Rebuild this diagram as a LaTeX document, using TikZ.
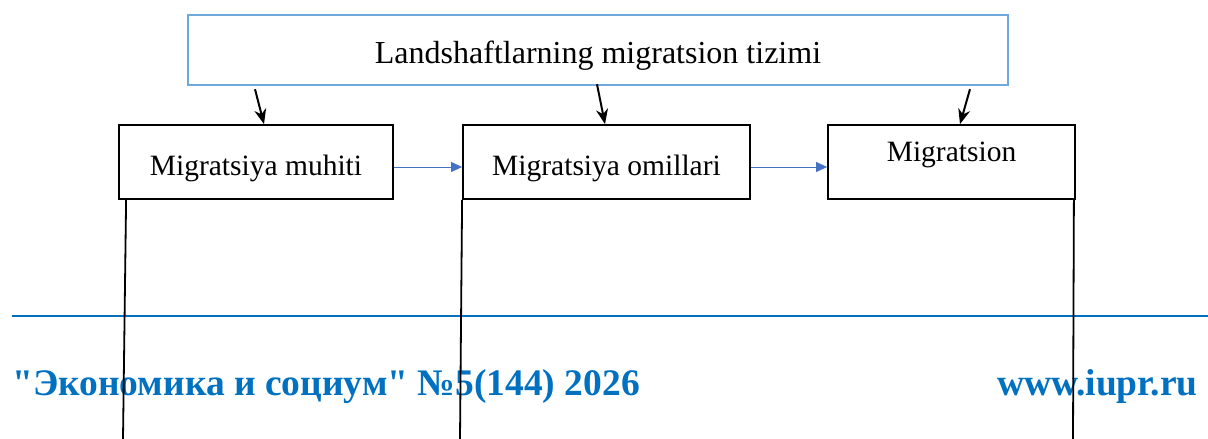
\documentclass[tikz,border=0pt]{standalone}
\usepackage{fontspec}
\setmainfont{Liberation Serif}
\usepackage{xcolor}
\usetikzlibrary{arrows.meta, positioning, calc}

\definecolor{framblue}{HTML}{6FA8DC}
\definecolor{linkblue}{HTML}{4472C4}
\definecolor{footblue}{HTML}{0070C0}

\begin{document}
\begin{tikzpicture}[x=1pt,y=-1pt,
  topbox/.style={draw=framblue,line width=2.4pt,minimum width=820pt,minimum height=70pt,inner sep=0pt},
  envbox/.style={draw,line width=1.8pt,minimum height=74pt,inner sep=0pt},
  boxtext/.style={font=\fontsize{29.5}{34}\selectfont,inner sep=0pt},
  downarrow/.style={-{Stealth[length=15pt,width=12pt]},line width=2pt},
  sidearrow/.style={-{Triangle[length=11pt,width=10pt]},linkblue,line width=1pt},
  footer/.style={footblue,font=\fontsize{37.5}{42}\bfseries\selectfont,inner sep=0pt}]
  \useasboundingbox (0,0) rectangle (1208,439);

  % Footer of the page
  \coordinate (ruleL) at (12,316);
  \coordinate (ruleR) at (1208,316);
  \draw[footblue,line width=2pt] (ruleL) -- (ruleR);
  \node[footer,anchor=base west] (journal) at (12,395) {\textquotedbl Экономика и социум\textquotedbl{} №5(144) 2026};
  \node[footer,anchor=base east] (site) at (1198,395) {www.iupr.ru};

  % Top box
  \node[topbox] (top) at (598,50) {};
  \node[font=\fontsize{32}{38}\selectfont,inner sep=0pt] (toptxt) at ($(top.center)+(0,6)$) {Landshaftlarning migratsion tizimi};

  % Second row
  \node[envbox,minimum width=274pt] (env1) at (256,162) {};
  \node[envbox,minimum width=287pt] (env2) at (606.5,162) {};
  \node[envbox,minimum width=247pt] (env3) at (951.5,162) {};
  \node[boxtext] (env1txt) at ($(env1.center)+(0,6)$) {Migratsiya muhiti};
  \node[boxtext] (env2txt) at ($(env2.center)+(0,6)$) {Migratsiya omillari};
  \node[boxtext] (env3txt) at ($(env3.center)+(0,-7)$) {Migratsion};

  % Arrows from the top box
  \draw[downarrow] ([xshift=-343pt,yshift=-3pt]top.south) -- ([xshift=8pt]env1.north);
  \draw[downarrow] ([xshift=-1pt,yshift=2pt]top.south) -- ([xshift=-1.5pt]env2.north);
  \draw[downarrow] ([xshift=372pt,yshift=-3pt]top.south) -- ([xshift=8.5pt]env3.north);

  % Arrows between the boxes
  \draw[sidearrow] ([yshift=-5pt]env1.east) -- ([yshift=-5pt]env2.west);
  \draw[sidearrow] ([yshift=-5pt]env2.east) -- ([yshift=-5pt]env3.west);

  % Lines going down
  \coordinate (end1) at (123,439);
  \coordinate (end2) at (460,439);
  \coordinate (end3) at (1073,439);
  \draw[line width=1.8pt] ([xshift=8pt]env1.south west) -- (end1);
  \draw[line width=1.8pt] (env2.south west) -- (end2);
  \draw[line width=1.8pt] ([xshift=-2pt]env3.south east) -- (end3);
\end{tikzpicture}
\end{document}
